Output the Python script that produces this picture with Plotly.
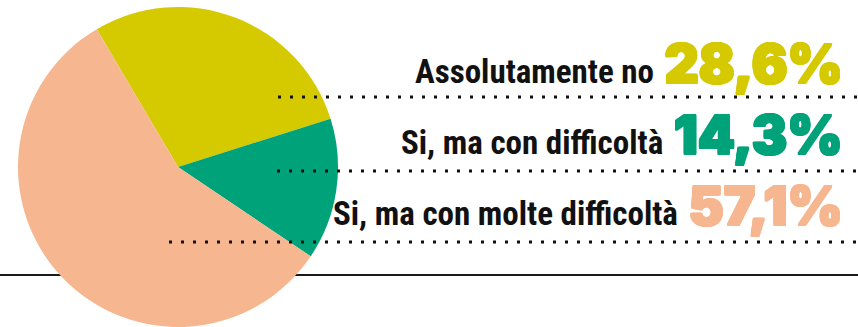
import plotly.graph_objects as go

# --- data ---
labels = ["Assolutamente no", "Si, ma con difficoltà", "Si, ma con molte difficoltà"]
values = [28.6, 14.3, 57.1]
colors = ["#d5c900", "#00a27a", "#f6b68f"]

W, H = 858, 327

fig = go.Figure(go.Pie(
    labels=labels,
    values=values,
    marker=dict(colors=colors, line=dict(width=0)),
    sort=False,
    direction="clockwise",
    rotation=-30.5,
    textinfo="none",
    hoverinfo="label+percent",
    domain=dict(x=[18 / W, 338 / W], y=[0, 320 / H]),
    showlegend=False,
))

# label rows: text right-aligned, percentage in big heavy type
row_mid = [64, 135, 206]      # px from top, vertical centre of each row
dot_y = [97, 171, 242]        # dotted rule under each row
dot_x0 = [278, 277, 169]

for lab, val, col, ym in zip(labels, values, colors, row_mid):
    pct = f"{val:.1f}".replace(".", ",") + "%"
    txt = (f"<span style='font-family:Roboto Condensed; font-size:33px; color:#111111; "
           f"text-shadow:none'><b>{lab}</b></span> {pct}")
    # a same-colour shadow thickens the figures towards the heavy display face
    thick = ", ".join(f"{dx}px {dy}px 0 {col}" for dx, dy in
                      [(1, 0), (-1, 0), (0, 1), (0, -1), (1, 1), (-1, -1), (1, -1), (-1, 1)])
    fig.add_annotation(
        x=845 / W, y=1 - ym / H, xref="paper", yref="paper",
        xanchor="right", yanchor="middle", showarrow=False,
        text=txt,
        font=dict(family="Inter", size=53, color=col, weight=900, shadow=thick),
    )

for y, x0 in zip(dot_y, dot_x0):
    fig.add_shape(type="line", xref="paper", yref="paper",
                  x0=x0 / W, x1=1, y0=1 - y / H, y1=1 - y / H,
                  line=dict(color="#111111", width=3, dash="3px,9px"),
                  layer="above")

# solid base rule behind the pie
fig.add_shape(type="line", xref="paper", yref="paper",
              x0=0, x1=1, y0=1 - 275 / H, y1=1 - 275 / H,
              line=dict(color="#1a1a1a", width=2), layer="below")

fig.update_layout(
    width=W, height=H,
    margin=dict(l=0, r=0, t=0, b=0),
    paper_bgcolor="white",
    plot_bgcolor="white",
)

fig.write_html("out.html", config={"displayModeBar": False},
               post_script="document.body.style.margin='0';")
